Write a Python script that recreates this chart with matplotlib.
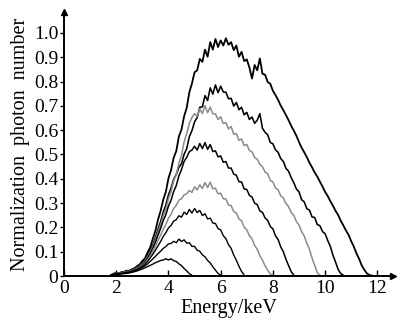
import numpy as np
import matplotlib
matplotlib.use("Agg")
import matplotlib.pyplot as plt

plt.rcParams["font.family"] = ["Liberation Serif", "DejaVu Serif"]

# ===== data: normalized spectra, energy grid starts at 1.8 keV, step 0.1 keV =====
e_start = 1.8
e_step = 0.1

spec1 = [0.004, 0.010, 0.013, 0.011, 0.016, 0.017, 0.022, 0.021, 0.028, 0.032,
         0.041, 0.048, 0.062, 0.073, 0.097, 0.118, 0.153, 0.186, 0.232, 0.268,
         0.314, 0.346, 0.402, 0.436, 0.487, 0.514, 0.574, 0.603, 0.657, 0.692,
         0.756, 0.792, 0.838, 0.846, 0.893, 0.881, 0.931, 0.902, 0.962, 0.931,
         0.975, 0.942, 0.969, 0.948, 0.978, 0.951, 0.962, 0.929, 0.948, 0.902,
         0.922, 0.884, 0.891, 0.858, 0.812, 0.868, 0.846, 0.895, 0.832, 0.828,
         0.798, 0.791, 0.762, 0.744, 0.724, 0.701, 0.682, 0.662, 0.641, 0.618,
         0.598, 0.577, 0.551, 0.528, 0.509, 0.489, 0.466, 0.447, 0.426, 0.409,
         0.388, 0.368, 0.346, 0.329, 0.308, 0.289, 0.268, 0.251, 0.227, 0.208,
         0.187, 0.169, 0.143, 0.121, 0.093, 0.071, 0.044, 0.026, 0.011, 0.004,
         0.002]

spec2 = [0.004, 0.009, 0.012, 0.013, 0.014, 0.018, 0.019, 0.023, 0.025, 0.031,
         0.036, 0.044, 0.053, 0.066, 0.083, 0.104, 0.128, 0.158, 0.192, 0.224,
         0.263, 0.292, 0.334, 0.362, 0.398, 0.418, 0.447, 0.462, 0.501, 0.524,
         0.573, 0.598, 0.634, 0.652, 0.694, 0.696, 0.742, 0.722, 0.774, 0.748,
         0.786, 0.754, 0.781, 0.757, 0.756, 0.729, 0.731, 0.699, 0.714, 0.684,
         0.694, 0.663, 0.673, 0.644, 0.654, 0.628, 0.641, 0.668, 0.608, 0.591,
         0.581, 0.549, 0.544, 0.519, 0.509, 0.483, 0.471, 0.443, 0.431, 0.405,
         0.384, 0.358, 0.346, 0.314, 0.305, 0.277, 0.271, 0.243, 0.241, 0.212,
         0.207, 0.183, 0.174, 0.146, 0.122, 0.086, 0.057, 0.027, 0.010, 0.003]

spec3 = [0.004, 0.008, 0.011, 0.013, 0.013, 0.017, 0.018, 0.022, 0.024, 0.029,
         0.034, 0.042, 0.050, 0.062, 0.079, 0.098, 0.121, 0.148, 0.181, 0.212,
         0.247, 0.276, 0.318, 0.348, 0.392, 0.418, 0.463, 0.497, 0.552, 0.586,
         0.628, 0.652, 0.668, 0.657, 0.688, 0.668, 0.701, 0.672, 0.695, 0.667,
         0.667, 0.644, 0.655, 0.627, 0.631, 0.605, 0.615, 0.583, 0.586, 0.558,
         0.564, 0.537, 0.541, 0.517, 0.511, 0.488, 0.480, 0.459, 0.450, 0.428,
         0.421, 0.393, 0.387, 0.362, 0.355, 0.330, 0.321, 0.298, 0.286, 0.262,
         0.250, 0.224, 0.210, 0.182, 0.165, 0.134, 0.110, 0.074, 0.044, 0.014,
         0.003]

spec4 = [0.004, 0.008, 0.010, 0.012, 0.013, 0.016, 0.017, 0.021, 0.023, 0.028,
         0.032, 0.040, 0.047, 0.058, 0.074, 0.092, 0.114, 0.138, 0.168, 0.196,
         0.228, 0.252, 0.288, 0.312, 0.348, 0.372, 0.412, 0.438, 0.472, 0.488,
         0.512, 0.518, 0.534, 0.518, 0.545, 0.524, 0.549, 0.521, 0.541, 0.512,
         0.515, 0.490, 0.494, 0.468, 0.471, 0.444, 0.444, 0.419, 0.415, 0.388,
         0.387, 0.358, 0.356, 0.332, 0.325, 0.300, 0.294, 0.268, 0.262, 0.239,
         0.229, 0.204, 0.194, 0.165, 0.150, 0.120, 0.100, 0.069, 0.043, 0.018,
         0.004]

spec5 = [0.003, 0.007, 0.010, 0.011, 0.012, 0.015, 0.016, 0.019, 0.022, 0.026,
         0.030, 0.037, 0.044, 0.053, 0.067, 0.083, 0.101, 0.122, 0.146, 0.168,
         0.192, 0.212, 0.238, 0.254, 0.278, 0.291, 0.312, 0.318, 0.334, 0.338,
         0.352, 0.344, 0.367, 0.354, 0.375, 0.360, 0.384, 0.364, 0.386, 0.359,
         0.361, 0.338, 0.341, 0.318, 0.317, 0.292, 0.290, 0.265, 0.259, 0.235,
         0.227, 0.201, 0.190, 0.166, 0.153, 0.126, 0.110, 0.084, 0.065, 0.042,
         0.024, 0.009, 0.002]

spec6 = [0.003, 0.006, 0.009, 0.010, 0.011, 0.013, 0.015, 0.017, 0.020, 0.024,
         0.028, 0.034, 0.040, 0.049, 0.060, 0.074, 0.089, 0.106, 0.124, 0.142,
         0.163, 0.178, 0.198, 0.208, 0.226, 0.232, 0.248, 0.242, 0.263, 0.253,
         0.274, 0.259, 0.278, 0.261, 0.270, 0.249, 0.256, 0.235, 0.238, 0.218,
         0.216, 0.195, 0.190, 0.166, 0.154, 0.129, 0.114, 0.086, 0.065, 0.040,
         0.019, 0.004]

spec7 = [0.003, 0.006, 0.008, 0.009, 0.010, 0.012, 0.013, 0.015, 0.018, 0.021,
         0.025, 0.030, 0.035, 0.042, 0.050, 0.060, 0.070, 0.081, 0.092, 0.102,
         0.114, 0.121, 0.132, 0.134, 0.143, 0.137, 0.152, 0.142, 0.149, 0.135,
         0.137, 0.122, 0.122, 0.106, 0.102, 0.087, 0.079, 0.064, 0.054, 0.038,
         0.024, 0.011, 0.003]

spec8 = [0.002, 0.005, 0.007, 0.008, 0.009, 0.010, 0.011, 0.013, 0.015, 0.018,
         0.021, 0.025, 0.029, 0.034, 0.039, 0.044, 0.049, 0.055, 0.059, 0.064,
         0.066, 0.071, 0.066, 0.071, 0.063, 0.060, 0.050, 0.043, 0.031, 0.021,
         0.010, 0.003]

spectra = [spec1, spec2, spec3, spec4, spec5, spec6, spec7, spec8]
colors = ["black", "black", "#8a8a8a", "black", "#8a8a8a", "black", "black", "black"]
widths = [1.3, 1.15, 1.1, 1.1, 1.1, 1.0, 1.0, 1.0]

x_ticks = [0, 2, 4, 6, 8, 10, 12]
y_ticks = [0, 0.1, 0.2, 0.3, 0.4, 0.5, 0.6, 0.7, 0.8, 0.9, 1.0]
y_tick_labels = ["0", "0.1", "0.2", "0.3", "0.4", "0.5", "0.6", "0.7", "0.8", "0.9", "1.0"]

# ===== figure =====
fig = plt.figure(figsize=(3.99, 3.24), dpi=100)
ax = fig.add_axes([0.1604, 0.148, 0.8246, 0.815])

for vals, c, lw in zip(spectra, colors, widths):
    energy = e_start + e_step * np.arange(len(vals))
    ax.plot(energy, vals, color=c, lw=lw)

ax.set_xlim(0, 12.6)
ax.set_ylim(0, 1.086)

ax.spines["top"].set_visible(False)
ax.spines["right"].set_visible(False)
ax.spines["left"].set_linewidth(1.4)
ax.spines["bottom"].set_linewidth(1.4)

# arrow heads on axes
ax.plot(1, 0, ">k", markersize=5, transform=ax.transAxes, clip_on=False)
ax.plot(0, 1, "^k", markersize=5, transform=ax.transAxes, clip_on=False)

ax.set_xticks(x_ticks)
ax.set_xticklabels([str(v) for v in x_ticks])
ax.set_yticks(y_ticks)
ax.set_yticklabels(y_tick_labels)
ax.tick_params(axis="x", direction="in", length=4, width=1, labelsize=14, pad=3)
ax.tick_params(axis="y", direction="out", length=3, width=1, labelsize=14, pad=1)

ax.set_xlabel("Energy/keV", fontsize=14.5, labelpad=1)
ax.set_ylabel("Normalization  photon  number", fontsize=14.5, labelpad=3)

fig.savefig("out.png", dpi=100)
